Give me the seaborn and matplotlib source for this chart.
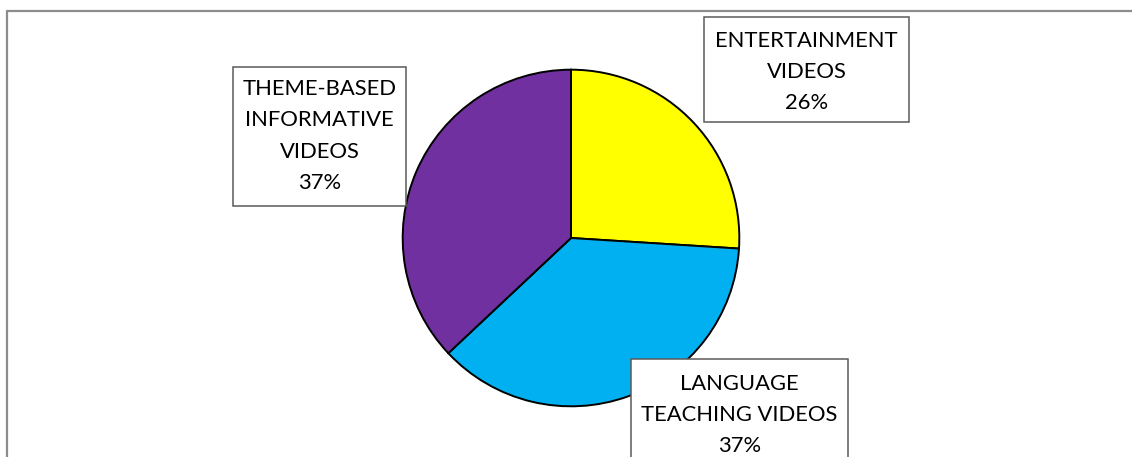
import matplotlib
matplotlib.use("Agg")
import matplotlib.pyplot as plt
from matplotlib.lines import Line2D
from matplotlib.patches import Rectangle
import seaborn as sns

# Survey shares by video type
categories = ["ENTERTAINMENT\nVIDEOS", "LANGUAGE\nTEACHING VIDEOS", "THEME-BASED\nINFORMATIVE\nVIDEOS"]
shares = [26, 37, 37]
colors = ["#FFFF00", "#00B0F0", "#7030A0"]

sns.set_theme(style="white")
plt.rcParams["font.family"] = ["Lato", "DejaVu Sans"]

W, H = 1132, 457
fig = plt.figure(figsize=(W / 100, H / 100), dpi=100)
fig.patch.set_facecolor("white")


def fx(x):
    return x / W


def fy(y):
    return 1 - y / H


# Pie in pixel-placed axes
cx, cy, r = 571, 238, 170
ax = fig.add_axes([fx(cx - r), fy(cy + r), 2 * r / W, 2 * r / H])
ax.pie(shares, colors=colors, startangle=90, counterclock=False,
       wedgeprops=dict(edgecolor="black", linewidth=1.4))
ax.set_xlim(-1.01, 1.01)
ax.set_ylim(-1.01, 1.01)
ax.set_aspect("equal")
ax.axis("off")

# Chart area frame (top and left edges visible)
fig.add_artist(Line2D([fx(6.5), fx(W + 5)], [fy(11.2), fy(11.2)], color="#8c8c8c", lw=1.6))
fig.add_artist(Line2D([fx(6.5), fx(6.5)], [fy(11.2), fy(H + 5)], color="#8c8c8c", lw=1.6))

# Data label boxes: (left, top, right, bottom, text center y)
boxes = [
    (704, 17, 909, 122, 72),
    (631, 359, 848, 470, 415),
    (233, 67, 406, 206, 136),
]
for (l, t, rr, b, ty), cat, s in zip(boxes, categories, shares):
    fig.add_artist(Rectangle((fx(l), fy(b)), (rr - l) / W, (b - t) / H,
                             transform=fig.transFigure, facecolor="white",
                             edgecolor="#5a5a5a", lw=1.1, zorder=5))
    fig.text(fx((l + rr) / 2), fy(ty), f"{cat}\n{s}%", ha="center", va="center",
             fontsize=15.8, color="black", linespacing=1.7, zorder=6)

fig.savefig("out.png", dpi=100, facecolor="white")
